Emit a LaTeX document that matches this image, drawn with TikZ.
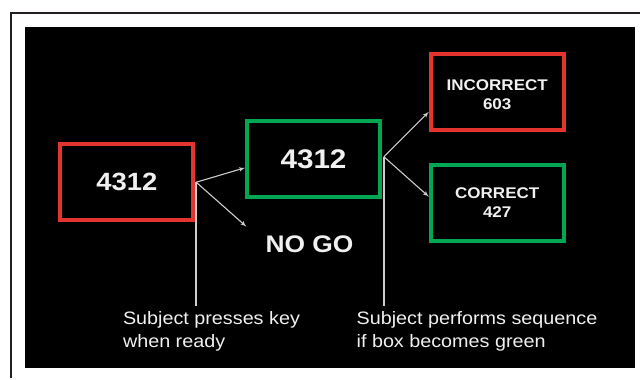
\documentclass[tikz,border=0pt]{standalone}
\usepackage{fontspec}
\setmainfont{Liberation Sans}[FakeStretch=1.1]
\usepackage{tikz}
\usetikzlibrary{arrows,positioning,calc}
\definecolor{boxred}{RGB}{228,52,48}
\definecolor{boxgreen}{RGB}{0,166,81}
\definecolor{txt}{RGB}{240,240,240}
\definecolor{wire}{RGB}{205,205,205}
\definecolor{frame}{RGB}{35,31,32}
\tikzstyle{box}=[draw, line width=4pt, minimum width=133pt, minimum height=76pt, text=txt, align=center, inner sep=0pt]
\tikzstyle{redbox}=[box, draw=boxred]
\tikzstyle{greenbox}=[box, draw=boxgreen]
\tikzstyle{note}=[text=txt, align=left, anchor=north west, inner sep=0pt, font=\fontsize{18}{23}\selectfont]
\tikzstyle{wirearrow}=[wire, line width=1.1pt, ->]

\begin{document}
\begin{tikzpicture}[x=1pt,y=-1pt,>=latex']
\fill[white] (0,0) rectangle (641,379);
\draw[frame,line width=2pt] (11,379) -- (11,13) -- (641,13);
\fill[black] (25,27) rectangle (636,369);
\node (first) at (127,182.5) [redbox,font=\bfseries\fontsize{25}{30}\selectfont] {4312};
\node (go) [right=50pt of first,yshift=23.5pt,greenbox,font=\bfseries\fontsize{27}{32}\selectfont] {4312};
\node (inc) [right=47pt of go,yshift=67pt,redbox,text height=36pt,font=\bfseries\fontsize{15.5}{19}\selectfont] {INCORRECT\\603};
\node (cor) [below=31pt of inc,greenbox,font=\bfseries\fontsize{15.5}{19}\selectfont] {CORRECT\\427};
\node (nogo) [below=37pt of go,xshift=-4pt,text=txt,inner sep=0pt,font=\bfseries\fontsize{24}{28}\selectfont] {NO GO};
\coordinate (k1) at ([xshift=1pt]first.east);
\coordinate (k2) at ([xshift=2pt,yshift=2pt]go.east);
\node (t1) at (123,312) [note] {Subject presses key\\when ready};
\node (t2) at (357,312) [note] {Subject performs sequence\\if box becomes green};
\path[wirearrow]
	(k1) edge ([yshift=-9pt]go.west)
	(k1) edge ([xshift=-19pt,yshift=9pt]nogo.north west)
	(k2) edge ([yshift=-20pt]inc.west)
	(k2) edge ([yshift=6pt]cor.west);
\path[wire,line width=1.4pt]
	(k1) edge ([yshift=6pt]k1 |- t1.north)
	(k2) edge ([yshift=6pt]k2 |- t2.north);
\end{tikzpicture}
\end{document}
